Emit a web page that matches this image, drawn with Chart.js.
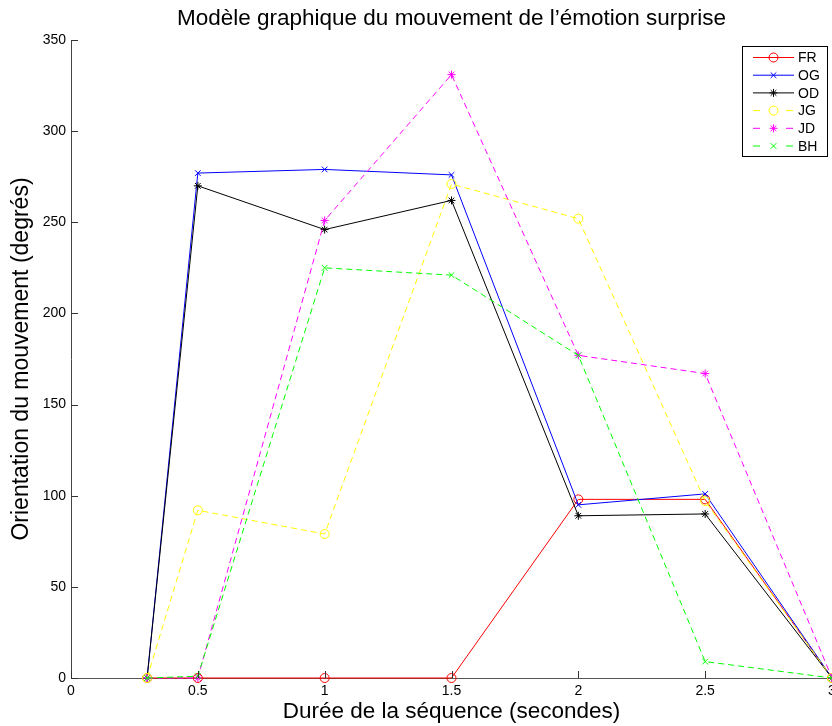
<!DOCTYPE html>
<html>
<head>
<meta charset="utf-8">
<script src="https://cdn.jsdelivr.net/npm/chart.js@4/dist/chart.umd.min.js"></script>
<style>
  html, body { margin: 0; padding: 0; background: #fff; overflow: hidden; }
  #wrap { width: 832px; height: 726px; }
</style>
</head>
<body>
<div id="wrap"><canvas id="c" width="832" height="726"></canvas></div>
<script>
// ---- data ----
const xValues = [0.3, 0.5, 1, 1.5, 2, 2.5, 3];
const seriesNames = ['FR', 'OG', 'OD', 'JG', 'JD', 'BH'];
const FR = [0, 0, 0, 0, 98, 98, 0];
const OG = [0, 277, 279, 276, 95, 101, 0];
const OD = [0, 270, 246, 262, 89, 90, 0];
const JG = [0, 92, 79, 271, 252, 97, 0];
const JD = [0, 0, 251, 331, 177, 167, 0];
const BH = [0, 1, 225, 221, 177, 9, 0];
const xTicks = [0, 0.5, 1, 1.5, 2, 2.5, 3];
const yTicks = [0, 50, 100, 150, 200, 250, 300, 350];

const FONT = '"Liberation Sans", Arial, Helvetica, sans-serif';

const styles = {
  FR: { color: '#ff0000', point: 'circle', dash: [] , radius: 4.5},
  OG: { color: '#0000ff', point: 'crossRot', dash: [], radius: 4 },
  OD: { color: '#000000', point: 'star', dash: [], radius: 4 },
  JG: { color: '#ffff00', point: 'circle', dash: [6, 4], radius: 4.5 },
  JD: { color: '#ff00ff', point: 'star', dash: [6, 4], radius: 4 },
  BH: { color: '#00ff00', point: 'crossRot', dash: [6, 4], radius: 4 }
};
const seriesValues = [FR, OG, OD, JG, JD, BH];

const datasets = seriesNames.map((name, i) => {
  const s = styles[name];
  return {
    label: name,
    data: xValues.map((x, k) => ({ x: x, y: seriesValues[i][k] })),
    borderColor: s.color,
    backgroundColor: 'rgba(0,0,0,0)',
    borderWidth: 1,
    borderDash: s.dash,
    pointStyle: s.point,
    pointRadius: s.radius,
    pointBorderColor: s.color,
    pointBackgroundColor: 'rgba(0,0,0,0)',
    pointBorderWidth: 1,
    tension: 0,
    order: seriesNames.length - i,
    clip: false
  };
});

// inward tick marks
const innerTicks = {
  id: 'innerTicks',
  afterDatasetsDraw(chart) {
    const ctx = chart.ctx;
    const xs = chart.scales.x, ys = chart.scales.y;
    const a = chart.chartArea;
    ctx.save();
    ctx.strokeStyle = '#333';
    ctx.lineWidth = 1;
    ctx.beginPath();
    xTicks.forEach(v => {
      const px = Math.round(xs.getPixelForValue(v)) + 0.5;
      ctx.moveTo(px, a.bottom);
      ctx.lineTo(px, a.bottom - 7);
    });
    yTicks.forEach(v => {
      const py = Math.round(ys.getPixelForValue(v)) + 0.5;
      ctx.moveTo(a.left, py);
      ctx.lineTo(a.left + 7, py);
    });
    ctx.stroke();
    ctx.restore();
  }
};

// MATLAB-like legend box
const boxLegend = {
  id: 'boxLegend',
  afterDraw(chart) {
    const ctx = chart.ctx;
    const left = 742.5, top = 46.5, w = 85, h = 110;
    ctx.save();
    ctx.fillStyle = '#fff';
    ctx.fillRect(left, top, w, h);
    ctx.strokeStyle = '#000';
    ctx.lineWidth = 1;
    ctx.strokeRect(left, top, w, h);
    ctx.font = '14px ' + FONT;
    ctx.textBaseline = 'middle';
    ctx.textAlign = 'left';
    chart.data.datasets.forEach((ds, i) => {
      const y = 57.5 + i * 17.7;
      ctx.strokeStyle = ds.borderColor;
      ctx.lineWidth = 1;
      ctx.setLineDash([]);
      ctx.beginPath();
      if (ds.borderDash && ds.borderDash.length) {
        ctx.moveTo(753, y); ctx.lineTo(760, y);
        ctx.moveTo(786, y); ctx.lineTo(793, y);
      } else {
        ctx.moveTo(753, y); ctx.lineTo(794, y);
      }
      ctx.stroke();
      ctx.fillStyle = 'rgba(0,0,0,0)';
      ctx.strokeStyle = ds.borderColor;
      Chart.helpers.drawPoint(ctx, {
        pointStyle: ds.pointStyle,
        radius: ds.pointRadius,
        borderWidth: 1,
        rotation: 0
      }, 773.5, y);
      ctx.fillStyle = '#000';
      ctx.fillText(ds.label, 798, y + 1);
    });
    ctx.restore();
  }
};

new Chart(document.getElementById('c'), {
  type: 'line',
  data: { datasets: datasets },
  plugins: [innerTicks, boxLegend],
  options: {
    responsive: false,
    animation: false,
    devicePixelRatio: 1,
    layout: { autoPadding: false, padding: { top: 0, right: 0, bottom: 0, left: 0 } },
    plugins: {
      legend: { display: false },
      tooltip: { enabled: false },
      title: {
        display: true,
        fullSize: false,
        text: 'Modèle graphique du mouvement de l’émotion surprise',
        color: '#000',
        font: { family: FONT, size: 22.5, weight: 'normal' },
        padding: { top: 5, bottom: 8 }
      }
    },
    scales: {
      x: {
        type: 'linear',
        min: 0, max: 3,
        afterBuildTicks: s => { s.ticks = xTicks.map(v => ({ value: v })); },
        afterFit: s => { s.height = 48; s.paddingRight = 0; s.paddingLeft = 0; },
        grid: { display: false, drawTicks: false },
        border: { display: true, color: '#555', width: 1 },
        ticks: {
          color: '#000', padding: 5,
          font: { family: FONT, size: 14 },
          maxRotation: 0, autoSkip: false,
          callback: v => String(v)
        },
        title: {
          display: true,
          text: 'Durée de la séquence (secondes)',
          color: '#000',
          font: { family: FONT, size: 22.5 },
          padding: { top: 0, bottom: 1 }
        }
      },
      y: {
        type: 'linear',
        min: 0, max: 350,
        afterBuildTicks: s => { s.ticks = yTicks.map(v => ({ value: v })); },
        afterFit: s => { s.width = 71; s.paddingTop = 0; s.paddingBottom = 0; },
        grid: { display: false, drawTicks: false },
        border: { display: true, color: '#444', width: 1 },
        ticks: {
          color: '#000', padding: 5,
          font: { family: FONT, size: 14 },
          autoSkip: false
        },
        title: {
          display: true,
          text: 'Orientation du mouvement (degrés)',
          color: '#000',
          font: { family: FONT, size: 23 },
          padding: { top: 8, bottom: 0 }
        }
      }
    }
  }
});
</script>
</body>
</html>
